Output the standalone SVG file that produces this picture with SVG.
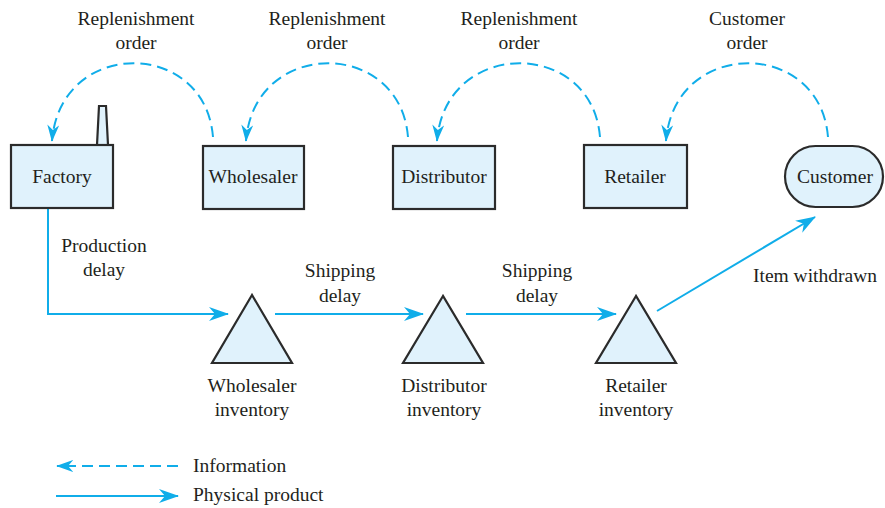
<svg xmlns="http://www.w3.org/2000/svg" width="885" height="508" viewBox="0 0 885 508">
<defs>
<marker id="ah" markerUnits="userSpaceOnUse" viewBox="0 0 20 14" refX="19" refY="7" markerWidth="20" markerHeight="14" orient="auto">
<path d="M0,0 L20,7 L0,14 L6,7 Z" fill="#10ade9"/>
</marker>
<marker id="ahs" markerUnits="userSpaceOnUse" viewBox="0 0 20 14" refX="19" refY="7" markerWidth="17" markerHeight="12" orient="auto">
<path d="M0,0 L20,7 L0,14 L6,7 Z" fill="#10ade9"/>
</marker>
</defs>
<style>
text{font-family:"Liberation Serif","Times New Roman",serif;font-size:19.5px;fill:#231f20}
.c{text-anchor:middle}
.box{fill:#e0f2fc;stroke:#2b2b2b;stroke-width:2.2}
.info{fill:none;stroke:#10ade9;stroke-width:2;stroke-dasharray:11 6;marker-end:url(#ahs)}
.phys{fill:none;stroke:#10ade9;stroke-width:2;marker-end:url(#ah)}
</style>
<rect width="885" height="508" fill="#fff"/>

<g id="labels">
<text class="c" x="136" y="25">Replenishment</text>
<text class="c" x="136" y="49">order</text>
<text class="c" x="327" y="25">Replenishment</text>
<text class="c" x="327" y="49">order</text>
<text class="c" x="519" y="25">Replenishment</text>
<text class="c" x="519" y="49">order</text>
<text class="c" x="747" y="25">Customer</text>
<text class="c" x="747" y="49">order</text>
<text class="c" x="104" y="252">Production</text>
<text class="c" x="104" y="276">delay</text>
<text class="c" x="340" y="277">Shipping</text>
<text class="c" x="340" y="302">delay</text>
<text class="c" x="537" y="277">Shipping</text>
<text class="c" x="537" y="302">delay</text>
<text x="753" y="282">Item withdrawn</text>
</g>

<g id="connectors">
<path class="info" d="M213 137 C205 38 60 38 52 141"/>
<path class="info" d="M408 137 C400 38 254 38 246 141"/>
<path class="info" d="M600 137 C592 38 445 38 437 141"/>
<path class="info" d="M828 137 C820 38 674 38 666 141"/>
<path class="phys" d="M48 208 V314 H228"/>
<path class="phys" d="M275 314 H423"/>
<path class="phys" d="M466 314 H616"/>
<path class="phys" d="M657 311 L815 217"/>
</g>

<g id="factory">
<polygon class="box" points="97,145 99,106 106,106 108,145"/>
<rect class="box" x="11" y="145" width="102" height="63"/>
<text class="c" x="62" y="183">Factory</text>
</g>
<g id="wholesaler">
<rect class="box" x="203" y="146" width="101" height="63"/>
<text class="c" x="253" y="183">Wholesaler</text>
</g>
<g id="distributor">
<rect class="box" x="393" y="146" width="102" height="63"/>
<text class="c" x="444" y="183">Distributor</text>
</g>
<g id="retailer">
<rect class="box" x="584" y="145" width="103" height="63"/>
<text class="c" x="635" y="183">Retailer</text>
</g>
<g id="customer">
<rect class="box" x="785" y="146" width="98" height="61" rx="30.5"/>
<text class="c" x="835" y="183">Customer</text>
</g>
<g id="wholesaler-inventory">
<polygon class="box" points="252,295 212,363 292,363"/>
<text class="c" x="252" y="392">Wholesaler</text>
<text class="c" x="252" y="416">inventory</text>
</g>
<g id="distributor-inventory">
<polygon class="box" points="443,296 403,363 483,363"/>
<text class="c" x="444" y="392">Distributor</text>
<text class="c" x="444" y="416">inventory</text>
</g>
<g id="retailer-inventory">
<polygon class="box" points="636,296 596,363 676,363"/>
<text class="c" x="636" y="392">Retailer</text>
<text class="c" x="636" y="416">inventory</text>
</g>

<g id="legend">
<path class="info" d="M178 466 H57"/>
<text x="193" y="472">Information</text>
<path class="phys" d="M56 496 H178"/>
<text x="193" y="501">Physical product</text>
</g>
</svg>
